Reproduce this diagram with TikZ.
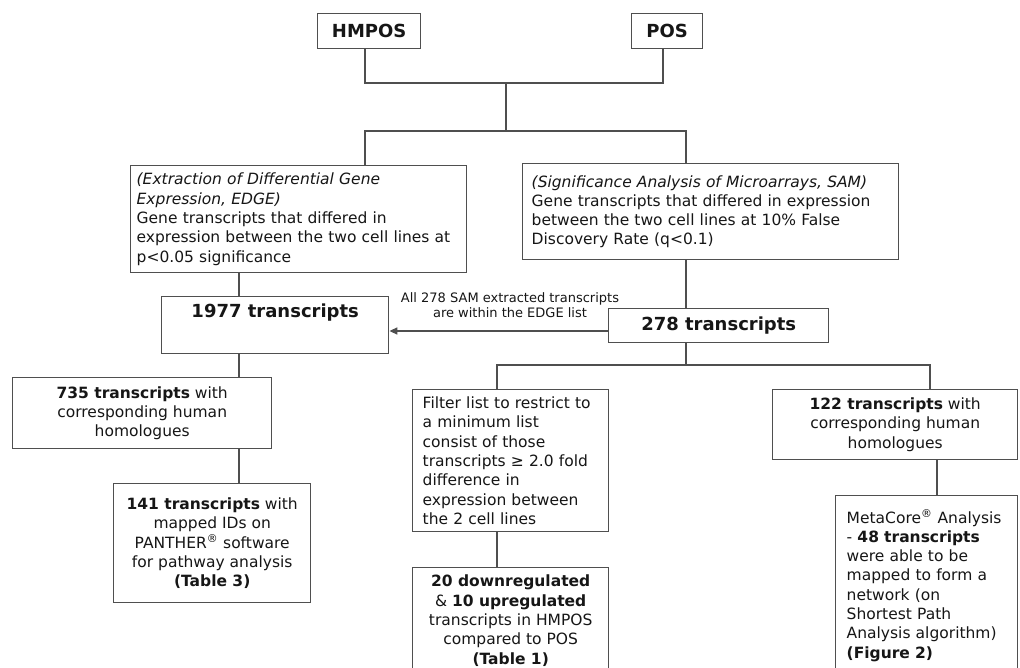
\documentclass[tikz,border=0pt]{standalone}
\usepackage{fontspec}
\setmainfont{DejaVu Sans}
\usetikzlibrary{arrows.meta,calc}
\definecolor{wiregray}{HTML}{4F4F4F}
\definecolor{ink}{HTML}{161616}
\tikzset{
  box/.style={draw=wiregray, line width=1.4pt, fill=white, anchor=north west,
    inner sep=0pt, font=\fontsize{15.5}{19.3}\selectfont, text=ink},
  boxl/.style={box, align=left},
  boxc/.style={box, align=center},
  head/.style={font=\fontsize{18}{21}\selectfont\bfseries, text=ink, inner sep=0pt},
  wire/.style={draw=wiregray, line width=1.4pt},
  note/.style={font=\fontsize{13}{14.3}\selectfont, text=ink, inner sep=0pt, align=center},
}
\begin{document}
\begin{tikzpicture}[x=1pt,y=-1pt]
\useasboundingbox[fill=white] (0,0) rectangle (1020,667);

% cell lines
\node[box, head, minimum width=103, minimum height=35] (hmpos) at (317,13) {HMPOS};
\node[box, head, minimum width=71, minimum height=35] (pos) at (631,13) {POS};

% the two extraction methods
\node[boxl, inner xsep=6pt, text width=324pt, minimum height=107] (edge) at (130,165)
  {\textit{(Extraction of Differential Gene}\\\textit{Expression, EDGE)}\\Gene transcripts that differed in\\expression between the two cell lines at\\p<0.05 significance};
\node[boxl, inner xsep=9pt, text width=358pt, minimum height=96] (sam) at (522,163)
  {\textit{(Significance Analysis of Microarrays, SAM)}\\Gene transcripts that differed in expression\\between the two cell lines at 10\% False\\Discovery Rate (q<0.1)};

% transcript counts
\node[box, minimum width=227, minimum height=57] (n1977) at (161,296) {};
\node[head] (t1977) at ($(n1977.north)+(0,17)$) {1977 transcripts};
\node[box, head, minimum width=220, minimum height=34] (n278) at (608,308) {278 transcripts};

% left branch
\node[boxc, minimum width=259, minimum height=71] (n735) at (12,377)
  {\textbf{735 transcripts} with\\corresponding human\\homologues};
\node[boxc, minimum width=197, minimum height=119] (n141) at (113,483)
  {\textbf{141 transcripts} with\\mapped IDs on\\PANTHER\textsuperscript{®} software\\for pathway analysis\\\textbf{(Table 3)}};

% middle branch
\node[boxl, inner xsep=10pt, text width=176pt, minimum height=142] (filter) at (412,389)
  {Filter list to restrict to\\a minimum list\\consist of those\\transcripts ≥ 2.0 fold\\difference in\\expression between\\the 2 cell lines};
\node[boxc, minimum width=196, minimum height=106] (down) at (412,567)
  {\textbf{20 downregulated}\\\& \textbf{10 upregulated}\\transcripts in HMPOS\\compared to POS\\\textbf{(Table 1)}};

% right branch
\node[boxc, minimum width=245, minimum height=70] (n122) at (772,389)
  {\textbf{122 transcripts} with\\corresponding human\\homologues};
\node[boxl, inner xsep=11pt, text width=160pt, minimum height=180] (meta) at (835,495)
  {MetaCore\textsuperscript{®} Analysis\\- \textbf{48 transcripts}\\were able to be\\mapped to form a\\network (on\\Shortest Path\\Analysis algorithm)\\\textbf{(Figure 2)}};

% junction points of the tree
\coordinate (topJ) at (506,83);
\coordinate (midJ) at (506,131);
\coordinate (lowJ) at (686,365);

\draw[wire] ($(hmpos.south west)+(48,0)$) |- (topJ) -| ($(pos.south west)+(32,0)$);
\draw[wire] (topJ) -- (midJ);
\draw[wire] ($(edge.north west)+(235,0)$) |- (midJ) -| ($(sam.north west)+(164,0)$);
\draw[wire] ($(edge.south west)+(109,0)$) -- ($(n1977.north west)+(78,0)$);
\draw[wire] ($(sam.south west)+(164,0)$) -- ($(n278.north west)+(78,0)$);
\draw[wire] ($(n1977.south west)+(78,0)$) -- ($(n735.north west)+(227,0)$);
\draw[wire] ($(n735.south west)+(227,0)$) -- ($(n141.north west)+(126,0)$);
\draw[wire] ($(n278.south west)+(78,0)$) -- (lowJ);
\draw[wire] ($(filter.north west)+(85,0)$) |- (lowJ) -| ($(n122.north west)+(158,0)$);
\draw[wire] ($(filter.south west)+(85,0)$) -- ($(down.north west)+(85,0)$);
\draw[wire] ($(n122.south west)+(165,0)$) -- ($(meta.north west)+(102,0)$);

% SAM list is contained in the EDGE list
\coordinate (arrS) at ($(n278.north west)+(0,23)$);
\coordinate (arrE) at (arrS -| n1977.east);
\draw[wire, -{Triangle[length=8pt,width=7pt]}] (arrS) -- (arrE);
\node[note] (subset) at (510,305) {All 278 SAM extracted transcripts\\are within the EDGE list};
\end{tikzpicture}
\end{document}
